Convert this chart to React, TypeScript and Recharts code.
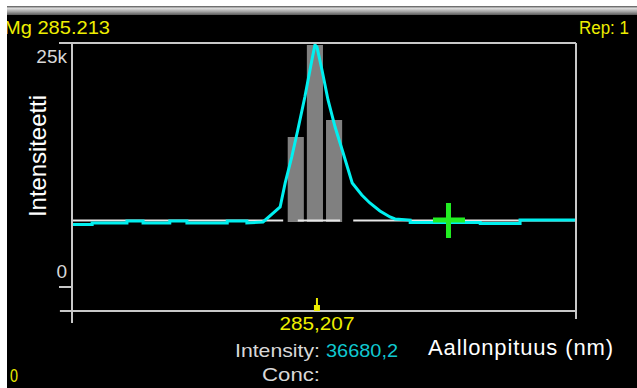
import {
	ComposedChart,
	Line,
	ReferenceArea,
	ReferenceLine,
	Scatter,
	XAxis,
	YAxis,
} from 'recharts';

const WIDTH = 637;
const HEIGHT = 388;
const X_MIN = 285.1584;
const X_MAX = 285.2584;
const Y_MIN = -2460;
const Y_MAX = 25000;

const FRAME = '#c8c8c8';
const CYAN = '#00f0f0';
const YELLOW = '#eeee00';
const LABEL_GREY = '#d8d8d8';
const BAR_GREY = '#808080';
const CROSS_GREEN = '#22ee22';
const PIXEL_FONT = '"Liberation Sans", Arial, sans-serif';

// spectrum trace (nm, counts)
const spectrumWavelengths = [
	285.1584, 285.1624, 285.1624, 285.1693, 285.1693, 285.1725, 285.1725, 285.1778, 285.1778,
	285.1812, 285.1812, 285.1892, 285.1892, 285.1931, 285.1931, 285.1963, 285.1983, 285.1997,
	285.2007, 285.202, 285.2032, 285.2046, 285.206, 285.2066, 285.207, 285.208, 285.2092,
	285.2106, 285.2122, 285.214, 285.2159, 285.2175, 285.2195, 285.2215, 285.2225, 285.2255,
	285.2255, 285.2394, 285.2394, 285.2473, 285.2473, 285.2584,
];
const spectrumIntensities = [
	6400, 6400, 6560, 6560, 6760, 6760, 6560, 6560, 6760, 6760, 6560, 6560, 6760, 6760, 6560, 6660,
	7580, 8200, 10660, 13320, 16090, 19470, 23260, 24800, 24590, 22230, 19160, 16390, 13730, 10660,
	9430, 8610, 7790, 7170, 6970, 6860, 6600, 6600, 6500, 6500, 6860, 6860,
];

// fitted background, drawn in pieces
const baselineStarts = [285.1584, 285.2032, 285.2142];
const baselineEnds = [285.2003, 285.2116, 285.2584];
const baselineLevel = 6810;

// integration pixels
const barCenters = [285.2028, 285.2066, 285.2104];
const barTops = [15370, 24800, 17110];
const barBase = 6660;
const barHalfWidth = 0.0016;

const peakWavelength = 285.207;
const peakLabel = '285,207';
const backgroundPoint = [{ x: 285.233, y: 6865 }];

const yTicks = [0, 25000];
const yTickLabels = ['0', '25k'];

const spectrumData = spectrumWavelengths.map((x, i) => ({ x, y: spectrumIntensities[i] }));
const baselineData = baselineStarts.flatMap((start, i) => [
	{ x: start, y: baselineLevel },
	{ x: baselineEnds[i], y: baselineLevel },
	{ x: baselineEnds[i], y: null },
]);

function YTick({ x, y, payload }: any) {
	const idx = yTicks.indexOf(payload.value);
	const above = payload.value === 0;
	return (
		<text
			x={x + 8}
			y={above ? y - 9 : y + 20}
			textAnchor="end"
			fill={LABEL_GREY}
			fontFamily={PIXEL_FONT}
			fontSize={19}
		>
			{yTickLabels[idx]}
		</text>
	);
}

function XTick({ x, y }: any) {
	return (
		<g>
			<line x1={x} x2={x} y1={y - 13} y2={y - 4} stroke={YELLOW} strokeWidth={2} />
			<rect x={x - 3} y={y - 6} width={6} height={6} fill={YELLOW} />
			<text
				x={x}
				y={y + 19}
				textAnchor="middle"
				fill={YELLOW}
				fontFamily={PIXEL_FONT}
				fontSize={19}
				textLength={75}
				lengthAdjust="spacingAndGlyphs"
			>
				{peakLabel}
			</text>
		</g>
	);
}

function Cross({ cx, cy }: any) {
	return (
		<g fill={CROSS_GREEN}>
			<rect x={cx - 15} y={cy - 2.5} width={32} height={5} />
			<rect x={cx - 2} y={cy - 17} width={5} height={35} />
		</g>
	);
}

export default function App() {
	return (
		<div
			style={{
				position: 'absolute',
				left: 0,
				top: 0,
				width: WIDTH,
				height: HEIGHT,
				background: '#000',
				overflow: 'hidden',
			}}
		>
			<ComposedChart
				width={WIDTH}
				height={HEIGHT}
				margin={{ top: 43, right: 61, bottom: 76, left: 71 }}
			>
				<XAxis
					type="number"
					dataKey="x"
					domain={[X_MIN, X_MAX]}
					allowDataOverflow
					ticks={[peakWavelength]}
					tick={<XTick />}
					tickLine={false}
					tickSize={0}
					tickMargin={0}
					height={1}
					axisLine={{ stroke: FRAME, strokeWidth: 2 }}
				/>
				<YAxis
					type="number"
					dataKey="y"
					domain={[Y_MIN, Y_MAX]}
					allowDataOverflow
					ticks={yTicks}
					tick={<YTick />}
					tickSize={13}
					tickMargin={0}
					tickLine={{ stroke: FRAME, strokeWidth: 2 }}
					width={1}
					axisLine={{ stroke: FRAME, strokeWidth: 2 }}
				/>
				{barCenters.map((c, i) => (
					<ReferenceArea
						key={c}
						x1={c - barHalfWidth}
						x2={c + barHalfWidth}
						y1={barBase}
						y2={barTops[i]}
						fill={BAR_GREY}
						fillOpacity={1}
						stroke="none"
					/>
				))}
				<Line
					data={baselineData}
					dataKey="y"
					stroke="#e8e8e8"
					strokeWidth={2}
					dot={false}
					activeDot={false}
					connectNulls={false}
					isAnimationActive={false}
				/>
				<Line
					data={spectrumData}
					dataKey="y"
					stroke={CYAN}
					strokeWidth={3}
					dot={false}
					activeDot={false}
					isAnimationActive={false}
				/>
				<Scatter
					data={backgroundPoint}
					dataKey="y"
					shape={<Cross />}
					isAnimationActive={false}
				/>
				<ReferenceLine y={Y_MAX} stroke={FRAME} strokeWidth={2} />
				<ReferenceLine
					segment={[
						{ x: X_MAX, y: -3280 },
						{ x: X_MAX, y: Y_MAX },
					]}
					stroke={FRAME}
					strokeWidth={2}
					ifOverflow="visible"
				/>
				<ReferenceLine
					segment={[
						{ x: X_MIN, y: -3690 },
						{ x: X_MIN, y: Y_MIN },
					]}
					stroke={FRAME}
					strokeWidth={2}
					ifOverflow="visible"
				/>
				<ReferenceLine
					segment={[
						{ x: 285.156, y: Y_MIN },
						{ x: X_MIN, y: Y_MIN },
					]}
					stroke={FRAME}
					strokeWidth={2}
					ifOverflow="visible"
				/>
			</ComposedChart>
			<svg
				width={WIDTH}
				height={HEIGHT}
				style={{ position: 'absolute', left: 0, top: 0, pointerEvents: 'none' }}
			>
				<defs>
					<linearGradient id="titleBar" x1="0" y1="0" x2="0" y2="1">
						<stop offset="0%" stopColor="#505050" />
						<stop offset="25%" stopColor="#dcdcdc" />
						<stop offset="60%" stopColor="#a8a8a8" />
						<stop offset="100%" stopColor="#5a5a5a" />
					</linearGradient>
				</defs>
				<rect x={0} y={6} width={WIDTH} height={9} fill="url(#titleBar)" />
				<text
					x={4}
					y={34}
					fill={YELLOW}
					fontFamily={PIXEL_FONT}
					fontSize={19}
					textLength={106}
					lengthAdjust="spacingAndGlyphs"
				>
					Mg 285.213
				</text>
				<text
					x={579}
					y={34}
					fill={YELLOW}
					fontFamily={PIXEL_FONT}
					fontSize={18}
					textLength={50}
					lengthAdjust="spacingAndGlyphs"
				>
					Rep: 1
				</text>
				<text
					x={10}
					y={382}
					fill={YELLOW}
					fontFamily={PIXEL_FONT}
					fontSize={19}
					textLength={8}
					lengthAdjust="spacingAndGlyphs"
				>
					0
				</text>
				<text
					x={235}
					y={357}
					fill={LABEL_GREY}
					fontFamily={PIXEL_FONT}
					fontSize={19}
					textLength={85}
					lengthAdjust="spacingAndGlyphs"
				>
					Intensity:
				</text>
				<text
					x={326}
					y={357}
					fill="#10c8d0"
					fontFamily={PIXEL_FONT}
					fontSize={19}
					textLength={72}
					lengthAdjust="spacingAndGlyphs"
				>
					36680,2
				</text>
				<text
					x={262}
					y={381}
					fill={LABEL_GREY}
					fontFamily={PIXEL_FONT}
					fontSize={19}
					textLength={58}
					lengthAdjust="spacingAndGlyphs"
				>
					Conc:
				</text>
				<text
					x={428}
					y={355}
					fill="#ffffff"
					fontFamily="Arial, 'Liberation Sans', sans-serif"
					fontSize={22}
					textLength={185}
					lengthAdjust="spacing"
				>
					Aallonpituus (nm)
				</text>
				<text
					x={46}
					y={217}
					transform="rotate(-90 46 217)"
					fill="#ffffff"
					fontFamily="Arial, 'Liberation Sans', sans-serif"
					fontSize={24}
					textLength={122}
					lengthAdjust="spacing"
				>
					Intensiteetti
				</text>
				<rect x={0} y={0} width={WIDTH} height={6} fill="#ffffff" />
				<rect x={0} y={0} width={7} height={HEIGHT} fill="#ffffff" />
			</svg>
		</div>
	);
}
